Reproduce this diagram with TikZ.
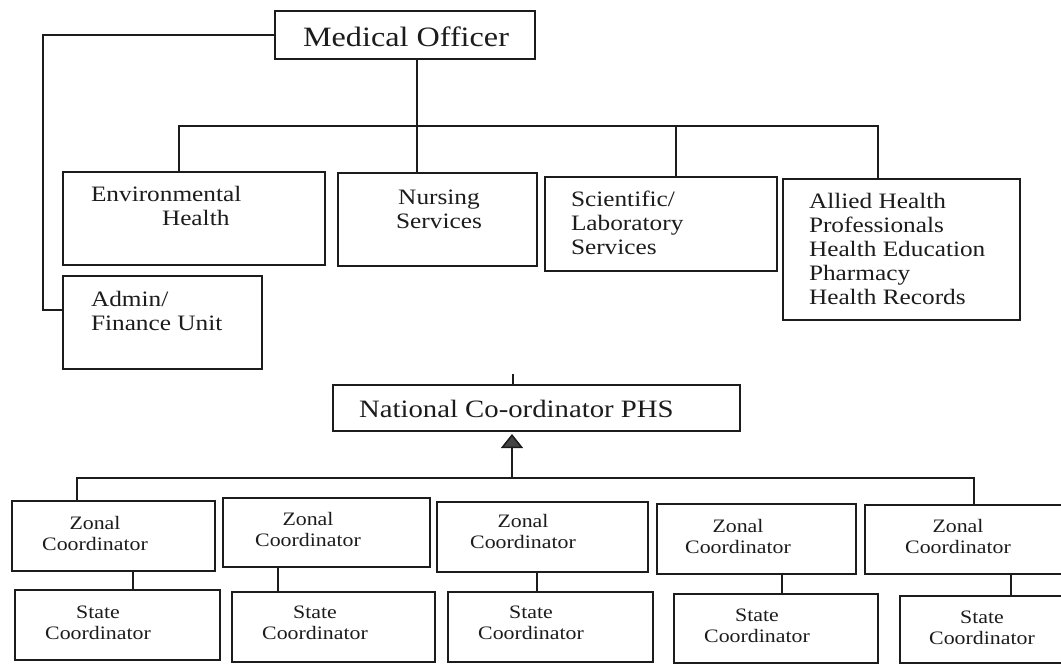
\documentclass[tikz,border=0pt]{standalone}
\usepackage{fontspec}
\setmainfont{Liberation Serif}[FakeStretch=1.15]
\usetikzlibrary{arrows.meta}

\definecolor{ink}{HTML}{1C1C1C}
\definecolor{tipgrey}{HTML}{454545}

% font sizes used in the chart
\newcommand{\fsHead}{\fontsize{28}{30}\selectfont}
\newcommand{\fsNat}{\fontsize{25}{27}\selectfont}
\newcommand{\fsUnit}{\fontsize{22}{24}\selectfont}
\newcommand{\fsZone}{\fontsize{19}{21}\selectfont}

\tikzset{
  box/.style={draw=ink, line width=1.5pt, inner sep=0pt, outer sep=0pt,
              anchor=north west},
  txt/.style={inner sep=0pt, outer sep=0pt, text=ink},
  link/.style={draw=ink, line width=1.5pt},
  uparrow/.style={link, -{Triangle[width=22pt,length=14pt,fill=tipgrey]},
                  shorten >=3pt}
}

\begin{document}
\begin{tikzpicture}[x=1pt,y=-1pt]
\useasboundingbox[fill=white] (0,0) rectangle (1061,665);

% ---------- upper chart: Medical Officer and units ----------
\node[box, minimum width=260pt, minimum height=48pt] (mo)     at (275,11)  {};
\node[box, minimum width=262pt, minimum height=93pt] (env)    at (63,172)  {};
\node[box, minimum width=199pt, minimum height=93pt] (nurs)   at (338,173) {};
\node[box, minimum width=232pt, minimum height=94pt] (sci)    at (545,177) {};
\node[box, minimum width=237pt, minimum height=141pt] (allied) at (783,179) {};
\node[box, minimum width=199pt, minimum height=93pt] (admin)  at (63,276)  {};

% multi-line labels are placed by the baseline of their last line
\node[txt, font=\fsHead, anchor=base] (moT) at (406,46) {Medical Officer};
\node[txt, font=\fsUnit, anchor=base west, align=left] (envT) at (91,225)
  {Environmental\\\hspace*{71pt}Health};
\node[txt, font=\fsUnit, anchor=base, align=center] (nursT) at (439,228)
  {Nursing\\Services};
\node[txt, font=\fsUnit, anchor=base west, align=left] (sciT) at (571,254)
  {Scientific/\\Laboratory\\Services};
\node[txt, font=\fsUnit, anchor=base west, align=left] (alliedT) at (809,304)
  {Allied Health\\Professionals\\Health Education\\Pharmacy\\Health Records};
\node[txt, font=\fsUnit, anchor=base west, align=left] (adminT) at (91,330)
  {Admin/\\Finance Unit};

% connection points
\coordinate (busA)   at (0,126);
\coordinate (moOut)  at ([xshift=12pt]mo.south);
\coordinate (envIn)  at ([xshift=-15pt]env.north);
\coordinate (sciIn)  at ([xshift=15pt]sci.north);
\coordinate (allIn)  at ([xshift=-23.5pt]allied.north);
\coordinate (admIn)  at ([yshift=-34pt]admin.north west);

\draw[link] (mo.west) -| ([xshift=-20pt]admIn) -- (admIn);
\draw[link] (moOut) -- (moOut |- nurs.north);
\draw[link] (envIn) |- (busA -| allIn) -- (allIn);
\draw[link] (sciIn) -- (sciIn |- busA);

% ---------- lower chart: national and zonal structure ----------
\node[box, minimum width=407pt, minimum height=46pt] (nat) at (333,385) {};
\node[txt, font=\fsNat, anchor=base west] (natT) at (359,417) {National Co-ordinator PHS};

\node[box, minimum width=203pt, minimum height=70pt] (z1) at (12,501)  {};
\node[box, minimum width=207pt, minimum height=69pt] (z2) at (223,498) {};
\node[box, minimum width=211pt, minimum height=70pt] (z3) at (437,502) {};
\node[box, minimum width=199pt, minimum height=70pt] (z4) at (657,504) {};
\node[box, minimum width=210pt, minimum height=69pt] (z5) at (865,505) {};

\node[box, minimum width=205pt, minimum height=70pt] (s1) at (15,590)  {};
\node[box, minimum width=203pt, minimum height=70pt] (s2) at (232,592) {};
\node[box, minimum width=205pt, minimum height=70pt] (s3) at (448,592) {};
\node[box, minimum width=204pt, minimum height=69pt] (s4) at (674,594) {};
\node[box, minimum width=175pt, minimum height=67pt] (s5) at (900,596) {};

\node[txt, font=\fsZone, anchor=base, align=center] (z1T) at (95,550)  {Zonal\\Coordinator};
\node[txt, font=\fsZone, anchor=base, align=center] (z2T) at (308,546) {Zonal\\Coordinator};
\node[txt, font=\fsZone, anchor=base, align=center] (z3T) at (523,548) {Zonal\\Coordinator};
\node[txt, font=\fsZone, anchor=base, align=center] (z4T) at (738,553) {Zonal\\Coordinator};
\node[txt, font=\fsZone, anchor=base, align=center] (z5T) at (958,553) {Zonal\\Coordinator};

\node[txt, font=\fsZone, anchor=base, align=center] (s1T) at (98,639)  {State\\Coordinator};
\node[txt, font=\fsZone, anchor=base, align=center] (s2T) at (315,639) {State\\Coordinator};
\node[txt, font=\fsZone, anchor=base, align=center] (s3T) at (531,639) {State\\Coordinator};
\node[txt, font=\fsZone, anchor=base, align=center] (s4T) at (757,642) {State\\Coordinator};
\node[txt, font=\fsZone, anchor=base, align=center] (s5T) at (982,644) {State\\Coordinator};

% connection points
\coordinate (busB)   at (0,478);
\coordinate (natIn)  at ([xshift=-23.5pt]nat.north);
\coordinate (natTop) at ([yshift=11pt]natIn);
\coordinate (natOut) at ([xshift=-24.5pt]nat.south);
\coordinate (z1In)   at ([xshift=-36.5pt]z1.north);
\coordinate (z5In)   at ([xshift=4pt]z5.north);

\draw[link] (natTop) -- (natIn);
\draw[uparrow] (natOut |- busB) -- (natOut);
\draw[link] (z1In) |- (busB -| z5In) -- (z5In);

\draw[link] ([xshift=19.5pt]z1.south) -- ([xshift=19.5pt]z1.south |- s1.north);
\draw[link] ([xshift=-48.5pt]z2.south) -- ([xshift=-48.5pt]z2.south |- s2.north);
\draw[link] ([xshift=-5.5pt]z3.south) -- ([xshift=-5.5pt]z3.south |- s3.north);
\draw[link] ([xshift=25.5pt]z4.south) -- ([xshift=25.5pt]z4.south |- s4.north);
\draw[link] ([xshift=41pt]z5.south) -- ([xshift=41pt]z5.south |- s5.north);
\end{tikzpicture}
\end{document}
